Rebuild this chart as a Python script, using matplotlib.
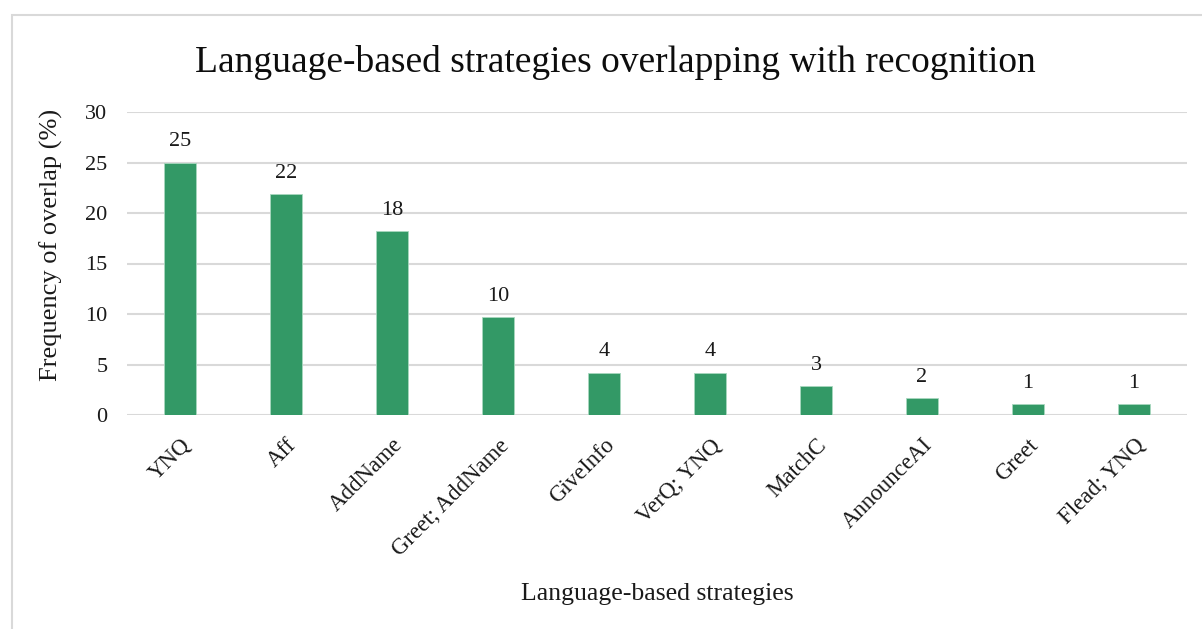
import matplotlib.pyplot as plt
from matplotlib.patches import Rectangle

TITLE = "Language-based strategies overlapping with recognition"
STRATEGIES = ["YNQ", "Aff", "AddName", "Greet; AddName", "GiveInfo",
              "VerQ; YNQ", "MatchC", "AnnounceAI", "Greet", "Flead; YNQ"]
OVERLAP = [25.0, 21.9, 18.2, 9.7, 4.2, 4.2, 2.9, 1.7, 1.1, 1.1]

GREEN = '#339966'
GRID = '#d9d9d9'
INK = '#1a1a1a'

plt.rcParams['font.family'] = ['Liberation Serif', 'DejaVu Serif']

fig = plt.figure(figsize=(12.02, 6.29), dpi=100)
ax = fig.add_axes([127/1202, 1-415/629, 1060/1202, 303/629])

# light frame around the whole chart
fig.patches.append(Rectangle((12/1202, -0.1), 1.2, 1-15/629+0.1,
                             transform=fig.transFigure, fill=False,
                             edgecolor=GRID, lw=1.5, zorder=0))

x = range(len(STRATEGIES))
bars = ax.bar(x, OVERLAP, width=0.31, color=GREEN, edgecolor='#a8d8bf',
              lw=0.6, zorder=3)
ax.bar_label(bars, labels=[f"{v:.0f}" for v in OVERLAP], padding=8,
             fontsize=16, color=INK)

ax.set_xlim(-0.5, len(STRATEGIES)-0.5)
ax.set_ylim(0, 30)
ax.set_yticks(range(0, 31, 5))
ax.yaxis.grid(True, color=GRID, lw=1.5, zorder=0)
ax.set_axisbelow(True)
for s in ax.spines.values():
    s.set_visible(False)
ax.tick_params(axis='both', length=0, labelcolor=INK)
ax.tick_params(axis='y', pad=14, labelsize=16)
ax.set_xticks(list(x))
ax.set_xticklabels(STRATEGIES, rotation=45, ha='right', va='top',
                   rotation_mode='anchor', fontsize=16.5)
ax.tick_params(axis='x', pad=14)

fig.text(51/1202, 1-245/629, 'Frequency of overlap (%)', fontsize=19,
         color=INK, rotation=90, ha='center', va='center')
fig.text(657/1202, 1-600/629, 'Language-based strategies', fontsize=18.5,
         color=INK, ha='center', va='baseline')
fig.text(615/1202, 1-72/629, TITLE, fontsize=27, color='#0d0d0d',
         ha='center', va='baseline')

fig.savefig('out.png', dpi=100)
